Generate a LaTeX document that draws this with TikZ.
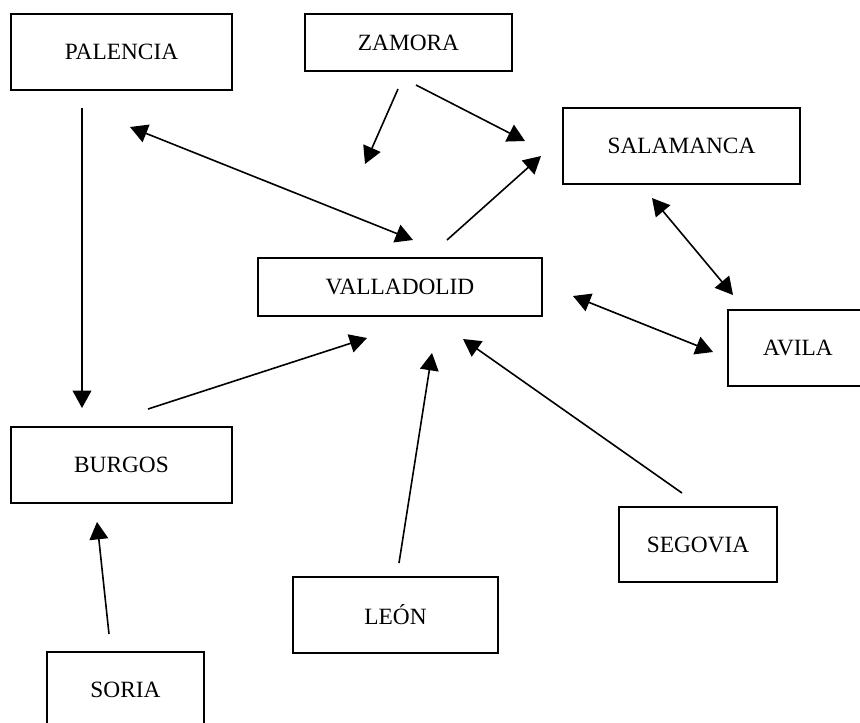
\documentclass[tikz,border=0pt]{standalone}
\usepackage{fontspec}
\setmainfont{Liberation Serif}
\usetikzlibrary{arrows.meta}
\begin{document}
\begin{tikzpicture}[x=0.75pt, y=-0.75pt, font=\fontsize{17.5}{21}\selectfont,
  city/.style={draw, line width=1.3pt, inner sep=0pt, minimum height=57pt},
  link/.style={line width=1.2pt, -{Triangle[length=13pt, width=14pt]}},
  both/.style={line width=1.2pt, {Triangle[length=13pt, width=14pt]}-{Triangle[length=13pt, width=14pt]}}]
\useasboundingbox (0,0) rectangle (860,722);
\node[city, minimum width=166pt] (pal) at (121.5,52){PALENCIA};
\node[city, minimum width=155pt, minimum height=43pt] (zam) at (408.5,42.5){ZAMORA};
\node[city, minimum width=178pt] (sal) at (681.5,146){SALAMANCA};
\node[city, minimum width=213pt, minimum height=43.5pt] (val) at (400,287){VALLADOLID};
\node[city, minimum width=105pt] (avi) at (798,348){AVILA};
\node[city, minimum width=166pt] (bur) at (121.5,465){BURGOS};
\node[city, minimum width=118.5pt, minimum height=56pt] (seg) at (698,544.5){SEGOVIA};
\node[city, minimum width=154pt] (leo) at (395.5,615){LEÓN};
\node[city, minimum width=118pt] (sor) at (125.5,690){SORIA};
% free ends of the connectors
\coordinate (pal1) at (82,108);
\coordinate (bur1) at (82,408);
\coordinate (pal2) at (130,127);
\coordinate (val1) at (413,240);
\coordinate (zam1) at (398,89);
\coordinate (zam2) at (365,164);
\coordinate (zam3) at (416,85);
\coordinate (sal1) at (525,141);
\coordinate (val2) at (447,240);
\coordinate (sal2) at (541,156);
\coordinate (sal3) at (652,198);
\coordinate (avi1) at (733,295);
\coordinate (val3) at (573,296);
\coordinate (avi2) at (713,352);
\coordinate (bur2) at (148,409);
\coordinate (val4) at (367,338);
\coordinate (leo1) at (399,563);
\coordinate (val5) at (432,353);
\coordinate (seg1) at (682,493);
\coordinate (val6) at (463,339);
\coordinate (sor1) at (109,634);
\coordinate (bur3) at (97,522);
\draw[link](pal1) -- (bur1);
\draw[both](pal2) -- (val1);
\draw[link](zam1) -- (zam2);
\draw[link](zam3) -- (sal1);
\draw[link](val2) -- (sal2);
\draw[both](sal3) -- (avi1);
\draw[both](val3) -- (avi2);
\draw[link](bur2) -- (val4);
\draw[link](leo1) -- (val5);
\draw[link](seg1) -- (val6);
\draw[link](sor1) -- (bur3);
\end{tikzpicture}
\end{document}
